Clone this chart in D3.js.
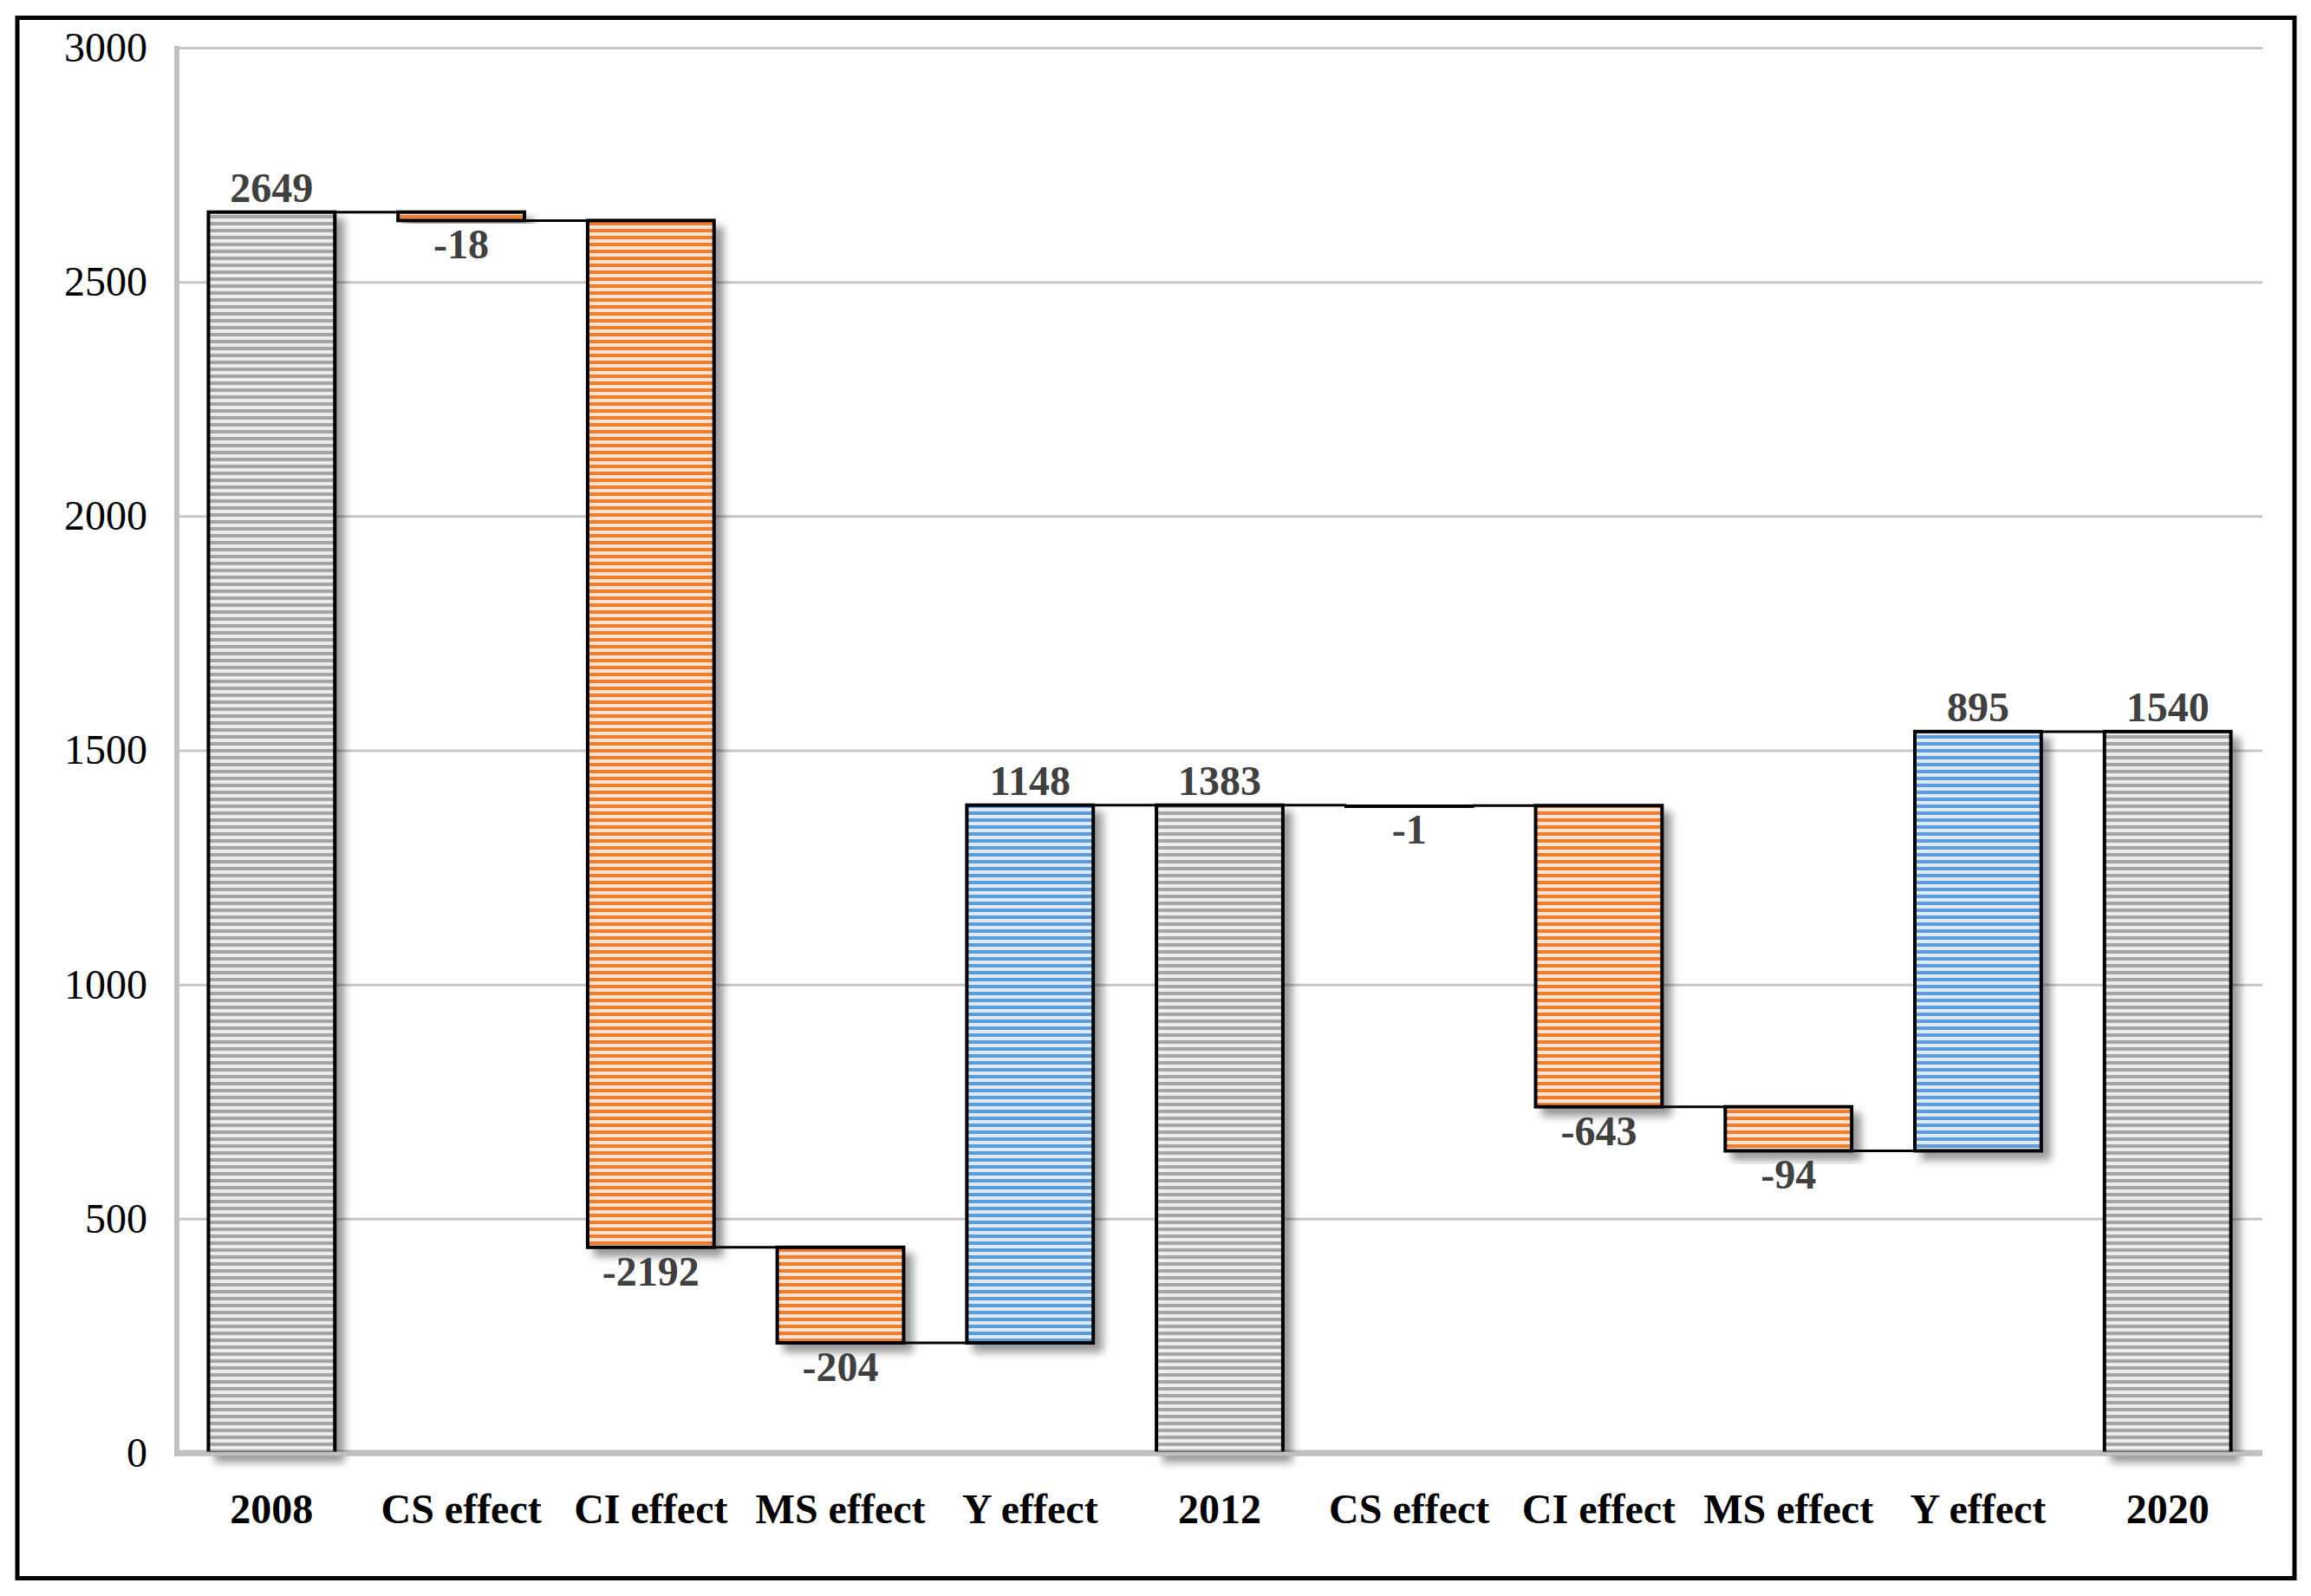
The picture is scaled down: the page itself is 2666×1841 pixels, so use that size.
<!DOCTYPE html>
<html>
<head>
<meta charset="utf-8">
<script src="https://cdn.jsdelivr.net/npm/d3@7"></script>
<style>
  body { margin: 0; background: #fff; }
  svg { display: block; }
</style>
</head>
<body>
<div id="chart"></div>
<script>
// waterfall data
var labels = ["2008", "CS effect", "CI effect", "MS effect", "Y effect", "2012",
              "CS effect", "CI effect", "MS effect", "Y effect", "2020"];
var values = [2649, -18, -2192, -204, 1148, 1383, -1, -643, -94, 895, 1540];
var isTotal = [true, false, false, false, false, true, false, false, false, false, true];
var yTicks = [0, 500, 1000, 1500, 2000, 2500, 3000];

var W = 2666, H = 1841;
var plot = {left: 204, right: 2610, top: 55, bottom: 1676};

var svg = d3.select('#chart').append('svg')
  .attr('width', W)
  .attr('height', H);

var defs = svg.append('defs');

var palette = {
  total: {dark: '#a5a5a5', light: '#ededed'},
  neg:   {dark: '#ed7d31', light: '#fbe3d2'},
  pos:   {dark: '#5b9bd5', light: '#dce9f6'}
};

Object.keys(palette).forEach(function(k) {
  var p = defs.append('pattern')
    .attr('id', 'stripe-' + k)
    .attr('patternUnits', 'userSpaceOnUse')
    .attr('width', 8)
    .attr('height', 8);
  p.append('rect').attr('width', 8).attr('height', 8).attr('fill', palette[k].light);
  p.append('rect').attr('width', 8).attr('height', 4).attr('fill', palette[k].dark);
});

var shadow = defs.append('filter')
  .attr('id', 'shadow')
  .attr('x', '-20%').attr('y', '-20%')
  .attr('width', '150%').attr('height', '150%');
shadow.append('feDropShadow')
  .attr('dx', 9).attr('dy', 9)
  .attr('stdDeviation', 5)
  .attr('flood-color', '#000')
  .attr('flood-opacity', 0.4);

// running totals
var bars = [];
var level = 0;
values.forEach(function(v, i) {
  var start, end;
  if (isTotal[i]) { start = 0; end = v; }
  else { start = level; end = level + v; }
  level = end;
  var kind = isTotal[i] ? 'total' : (v < 0 ? 'neg' : 'pos');
  bars.push({i: i, label: labels[i], value: v, start: start, end: end, kind: kind});
});

var x = d3.scaleBand()
  .domain(d3.range(labels.length))
  .range([plot.left, plot.right])
  .paddingInner(1 / 3)
  .paddingOuter(1 / 6);

var y = d3.scaleLinear()
  .domain([0, 3000])
  .range([plot.bottom, plot.top]);

// gridlines + y labels
var yAxis = d3.axisLeft(y)
  .tickValues(yTicks)
  .tickSize(-(plot.right - plot.left))
  .tickPadding(34)
  .tickFormat(d3.format('d'));

var gy = svg.append('g')
  .attr('class', 'y axis')
  .attr('transform', `translate(${plot.left},0)`)
  .call(yAxis);
gy.select('.domain').remove();
gy.selectAll('line').attr('stroke', '#c6c6c6').attr('stroke-width', 3);
gy.selectAll('text')
  .style('font-family', '"Liberation Serif", "Times New Roman", serif')
  .style('font-size', '48px')
  .attr('fill', '#000');

// axis lines
svg.append('line')
  .attr('x1', plot.left).attr('x2', plot.left)
  .attr('y1', plot.top - 2).attr('y2', plot.bottom + 4)
  .attr('stroke', '#c0c0c0').attr('stroke-width', 6);
svg.append('line')
  .attr('x1', plot.left - 3).attr('x2', plot.right)
  .attr('y1', plot.bottom).attr('y2', plot.bottom)
  .attr('stroke', '#c0c0c0').attr('stroke-width', 7);

// bars
svg.append('g')
  .selectAll('rect')
  .data(bars)
  .join('rect')
    .attr('x', d => x(d.i))
    .attr('y', d => y(Math.max(d.start, d.end)))
    .attr('width', x.bandwidth())
    .attr('height', d => Math.max(2, Math.abs(y(d.start) - y(d.end))))
    .attr('fill', d => `url(#stripe-${d.kind})`)
    .attr('stroke', '#000')
    .attr('stroke-width', 4)
    .attr('filter', 'url(#shadow)');

// redraw bottom axis over the shadows
svg.append('line')
  .attr('x1', plot.left - 3).attr('x2', plot.right)
  .attr('y1', plot.bottom + 1).attr('y2', plot.bottom + 1)
  .attr('stroke', '#c0c0c0').attr('stroke-width', 5);

// connectors
svg.append('g')
  .selectAll('line')
  .data(bars.slice(0, -1))
  .join('line')
    .attr('x1', d => x(d.i) + x.bandwidth())
    .attr('x2', d => x(d.i + 1))
    .attr('y1', d => y(d.end))
    .attr('y2', d => y(d.end))
    .attr('stroke', '#000')
    .attr('stroke-width', 3);

// value labels
svg.append('g')
  .selectAll('text')
  .data(bars)
  .join('text')
    .attr('x', d => x(d.i) + x.bandwidth() / 2)
    .attr('y', d => d.kind === 'neg'
      ? y(Math.min(d.start, d.end)) + 44
      : y(Math.max(d.start, d.end)) - 12)
    .attr('text-anchor', 'middle')
    .style('font-family', '"Liberation Serif", "Times New Roman", serif')
    .style('font-size', '48px')
    .style('font-weight', 'bold')
    .attr('fill', '#404040')
    .text(d => d.value);

// x labels
var xAxis = d3.axisBottom(x)
  .tickSize(0)
  .tickFormat(i => labels[i]);

var gx = svg.append('g')
  .attr('class', 'x axis')
  .attr('transform', `translate(0,${plot.bottom})`)
  .call(xAxis);
gx.select('.domain').remove();
gx.selectAll('text')
  .attr('y', 81)
  .attr('dy', 0)
  .style('font-family', '"Liberation Serif", "Times New Roman", serif')
  .style('font-size', '48px')
  .style('font-weight', 'bold')
  .attr('fill', '#000');

// outer frame
svg.append('rect')
  .attr('x', 20).attr('y', 20.5)
  .attr('width', 2627).attr('height', 1800)
  .attr('fill', 'none')
  .attr('stroke', '#000')
  .attr('stroke-width', 5);
</script>
</body>
</html>
